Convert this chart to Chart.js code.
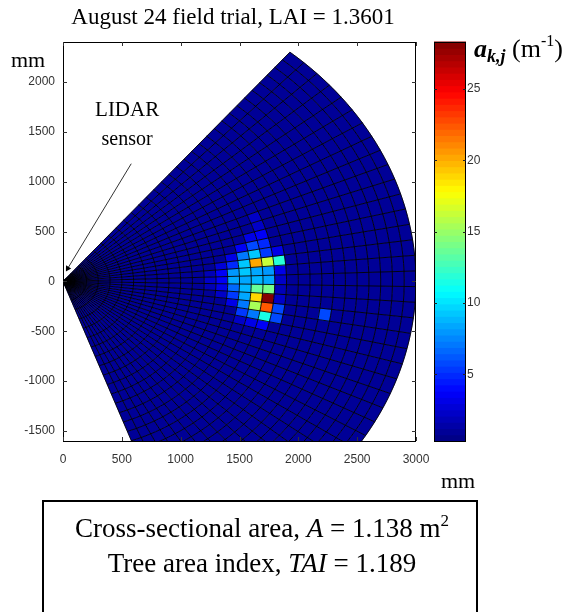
<!DOCTYPE html>
<html>
<head>
<meta charset="utf-8">
<script src="https://cdn.jsdelivr.net/npm/chart.js@4.4.1/dist/chart.umd.min.js"></script>
<style>
  html, body { margin: 0; padding: 0; background: #fff; }
  body { width: 574px; height: 612px; position: relative; overflow: hidden;
         font-family: "Liberation Serif", "Times New Roman", serif; color: #000; }
  #wrap { position: absolute; left: 0; top: 0; width: 574px; height: 612px; }
  .lbl { position: absolute; white-space: nowrap; line-height: 1; }
  #title { left: 0; width: 466px; top: 5px; text-align: center; font-size: 23px; }
  #mmY { left: 11px; top: 49px; font-size: 22px; }
  #mmX { left: 441px; top: 470px; font-size: 22px; }
  #cbLabel { left: 474px; top: 33px; font-size: 26px; }
  #cbLabel sub { font-size: 18px; vertical-align: -5px; }
  #cbLabel sup { font-size: 16px; vertical-align: 11px; }
  #box { position: absolute; left: 42px; top: 500px; width: 432px; height: 140px;
         border: 2px solid #000; }
  .boxline { left: 0; width: 436px; text-align: center; font-size: 27px; }
  .boxline sup { font-size: 17px; vertical-align: 11px; }
</style>
</head>
<body>
<div id="wrap"><canvas id="fan-chart" width="574" height="612"></canvas></div>
<div class="lbl" id="title">August 24 field trial, LAI = 1.3601</div>
<div class="lbl" id="mmY">mm</div>
<div class="lbl" id="mmX">mm</div>
<div class="lbl" id="cbLabel"><b><i>a</i></b><sub><b><i>k,j</i></b></sub> (m<sup>-1</sup>)</div>
<div id="box">
  <div class="lbl boxline" style="top:10px">Cross-sectional area, <i>A</i> = 1.138 m<sup>2</sup></div>
  <div class="lbl boxline" style="top:48px">Tree area index, <i>TAI</i> = 1.189</div>
</div>
<script>
(function () {
  'use strict';

  // Polar grid of the scan (mm / degrees from the sensor)
  const RING_EDGES = [0, 100, 200, 300, 400, 500, 600, 700, 800, 900, 1000,
    1100, 1200, 1300, 1400, 1500, 1600, 1700, 1800, 1900, 2000,
    2100, 2200, 2300, 2400, 2500, 2600, 2700, 2800, 2900, 3000];
  const SECTOR_EDGES = [-70, -67, -64, -61, -58, -55, -52, -49, -46, -43, -40,
    -37, -34, -31, -28, -25, -22, -19, -16, -13, -10, -7, -4, -1,
    2, 5, 8, 11, 14, 17, 20, 23, 26, 29, 32, 35, 38, 41, 44, 47, 50];

  // a_kj values (m^-1): background level plus the non-empty cells
  const BASE_VALUE = 0.9;
  const HOT_RING = [
    12, 12, 12,
    13, 13, 13, 13, 13,
    14, 14, 14, 14, 14, 14, 14,
    15, 15, 15, 15, 15, 15, 15, 15, 15, 15,
    16, 16, 16, 16, 16, 16, 16, 16, 16, 16, 16,
    17, 17, 17, 17, 17, 17, 17, 17, 17, 17, 17, 17, 17,
    18, 18, 18, 18, 18, 18, 18, 18,
    22];
  const HOT_SECTOR = [
    22, 23, 24,
    21, 22, 23, 24, 25,
    20, 21, 22, 23, 24, 25, 26,
    18, 19, 20, 21, 22, 23, 24, 25, 26, 27,
    18, 19, 20, 21, 22, 23, 24, 25, 26, 27, 28,
    18, 19, 20, 21, 22, 23, 24, 25, 26, 27, 28, 29, 30,
    19, 20, 21, 22, 23, 24, 25, 26,
    20];
  const HOT_VALUE = [
    2.0, 2.2, 2.0,
    2.4, 3.0, 3.6, 3.6, 2.6,
    3.0, 5.4, 6.5, 8.2, 7.8, 5.0, 3.0,
    2.5, 5.5, 6.9, 8.2, 9.0, 8.6, 9.1, 9.5, 6.9, 3.5,
    3.0, 7.3, 15.6, 19.1, 13.5, 8.8, 8.2, 20.3, 9.3, 6.0, 3.0,
    3.5, 11.5, 22.6, 28.0, 14.3, 8.6, 7.8, 16.1, 5.5, 5.0, 3.5, 2.2, 2.4,
    5.9, 5.6, 2.5, 2.0, 2.2, 3.0, 11.7, 3.0,
    5.8];

  const X_TICKS = [0, 500, 1000, 1500, 2000, 2500, 3000];
  const Y_TICKS = [-1500, -1000, -500, 0, 500, 1000, 1500, 2000];
  const CB_TICKS = [5, 10, 15, 20, 25];
  const CB_MIN = 0.33;
  const CB_MAX = 28.3;

  // annotation: pointer from the label to the sensor (mm)
  const LIDAR_LINE = [{ x: 580, y: 1180 }, { x: 40, y: 130 }];
  const LIDAR_TEXT = [{ text: 'LIDAR', x: 545, y: 1660, size: 21 },
                      { text: 'sensor', x: 545, y: 1370, size: 20 }];

  const N_COLORS = 64;
  const TICK_FONT = '"Liberation Sans", Arial, sans-serif';

  function jet(t) {
    const c = v => Math.round(255 * Math.max(0, Math.min(1, v)));
    return 'rgb(' + c(1.5 - Math.abs(4 * t - 3)) + ',' + c(1.5 - Math.abs(4 * t - 2)) + ',' +
      c(1.5 - Math.abs(4 * t - 1)) + ')';
  }

  function colorFor(v) {
    let i = Math.floor((v - CB_MIN) / (CB_MAX - CB_MIN) * N_COLORS);
    i = Math.max(0, Math.min(N_COLORS - 1, i));
    return jet((i + 0.5) / N_COLORS);
  }

  // value grid [ring][sector]
  const grid = RING_EDGES.slice(1).map(() => SECTOR_EDGES.slice(1).map(() => BASE_VALUE));
  HOT_RING.forEach((k, n) => { grid[k][HOT_SECTOR[n]] = HOT_VALUE[n]; });

  const fanPlugin = {
    id: 'fan',
    beforeDatasetsDraw(chart) {
      const { ctx, chartArea, scales } = chart;
      const xs = scales.x, ys = scales.y, cb = scales.cb;
      const rad = d => d * Math.PI / 180;
      const pt = (r, a) => [xs.getPixelForValue(r * Math.cos(rad(a))),
                            ys.getPixelForValue(r * Math.sin(rad(a)))];
      const SUB = 4;

      ctx.save();
      ctx.beginPath();
      ctx.rect(chartArea.left, chartArea.top, chartArea.width, chartArea.height);
      ctx.clip();

      // cells
      for (let k = 0; k < grid.length; k++) {
        const r0 = RING_EDGES[k], r1 = RING_EDGES[k + 1];
        for (let j = 0; j < grid[k].length; j++) {
          const a0 = SECTOR_EDGES[j], a1 = SECTOR_EDGES[j + 1];
          ctx.beginPath();
          for (let s = 0; s <= SUB; s++) {
            const p = pt(r1, a0 + (a1 - a0) * s / SUB);
            s === 0 ? ctx.moveTo(p[0], p[1]) : ctx.lineTo(p[0], p[1]);
          }
          for (let s = SUB; s >= 0; s--) {
            const p = pt(r0, a0 + (a1 - a0) * s / SUB);
            ctx.lineTo(p[0], p[1]);
          }
          ctx.closePath();
          ctx.fillStyle = colorFor(grid[k][j]);
          ctx.fill();
          ctx.strokeStyle = ctx.fillStyle;
          ctx.lineWidth = 0.5;
          ctx.stroke();
        }
      }

      // cell edges
      ctx.beginPath();
      const aMin = SECTOR_EDGES[0], aMax = SECTOR_EDGES[SECTOR_EDGES.length - 1];
      RING_EDGES.slice(1).forEach(r => {
        const n = 80;
        for (let s = 0; s <= n; s++) {
          const p = pt(r, aMin + (aMax - aMin) * s / n);
          s === 0 ? ctx.moveTo(p[0], p[1]) : ctx.lineTo(p[0], p[1]);
        }
      });
      const rMax = RING_EDGES[RING_EDGES.length - 1];
      SECTOR_EDGES.forEach(a => {
        const p0 = pt(0, a), p1 = pt(rMax, a);
        ctx.moveTo(p0[0], p0[1]);
        ctx.lineTo(p1[0], p1[1]);
      });
      ctx.strokeStyle = 'rgba(0,0,0,0.88)';
      ctx.lineWidth = 1;
      ctx.stroke();
      ctx.restore();

      // colour bar
      const cbLeft = 434, cbRight = 466;
      ctx.save();
      for (let i = 0; i < N_COLORS; i++) {
        const v0 = CB_MIN + (CB_MAX - CB_MIN) * i / N_COLORS;
        const v1 = CB_MIN + (CB_MAX - CB_MIN) * (i + 1) / N_COLORS;
        const yTop = cb.getPixelForValue(v1), yBot = cb.getPixelForValue(v0);
        ctx.fillStyle = jet((i + 0.5) / N_COLORS);
        ctx.fillRect(cbLeft, yTop - 0.5, cbRight - cbLeft, yBot - yTop + 1);
      }
      ctx.strokeStyle = '#000';
      ctx.lineWidth = 1;
      ctx.strokeRect(cbLeft + 0.5, chartArea.top + 0.5, cbRight - cbLeft - 1, chartArea.height);
      ctx.beginPath();
      CB_TICKS.forEach(v => {
        const y = Math.round(cb.getPixelForValue(v)) + 0.5;
        ctx.moveTo(cbLeft, y); ctx.lineTo(cbLeft + 3, y);
        ctx.moveTo(cbRight, y); ctx.lineTo(cbRight - 3, y);
      });
      ctx.strokeStyle = '#222';
      ctx.stroke();
      ctx.restore();
    },
    afterDatasetsDraw(chart) {
      const { ctx, chartArea, scales } = chart;
      const xs = scales.x, ys = scales.y;
      ctx.save();
      // axes box with inward ticks
      ctx.strokeStyle = '#000';
      ctx.lineWidth = 1;
      ctx.strokeRect(Math.round(chartArea.left) + 0.5, Math.round(chartArea.top) + 0.5,
        Math.round(chartArea.width) - 1, Math.round(chartArea.height));
      ctx.beginPath();
      const TL = 4;
      X_TICKS.forEach(v => {
        const x = Math.round(xs.getPixelForValue(v)) + 0.5;
        ctx.moveTo(x, chartArea.top); ctx.lineTo(x, chartArea.top + TL);
        ctx.moveTo(x, chartArea.bottom); ctx.lineTo(x, chartArea.bottom - TL);
      });
      Y_TICKS.forEach(v => {
        const y = Math.round(ys.getPixelForValue(v)) + 0.5;
        ctx.moveTo(chartArea.left, y); ctx.lineTo(chartArea.left + TL, y);
        ctx.moveTo(chartArea.right, y); ctx.lineTo(chartArea.right - TL, y);
      });
      ctx.strokeStyle = '#333';
      ctx.stroke();

      // annotation text
      ctx.fillStyle = '#000';
      ctx.textAlign = 'center';
      ctx.textBaseline = 'alphabetic';
      LIDAR_TEXT.forEach(t => {
        ctx.font = t.size + 'px "Liberation Serif", "Times New Roman", serif';
        ctx.fillText(t.text, xs.getPixelForValue(t.x), ys.getPixelForValue(t.y));
      });
      ctx.restore();
    }
  };

  function noPad(s) {
    s.paddingTop = 0; s.paddingBottom = 0; s.paddingLeft = 0; s.paddingRight = 0;
  }

  const ctx = document.getElementById('fan-chart');
  new Chart(ctx, {
    type: 'scatter',
    data: {
      datasets: [{
        type: 'line',
        data: LIDAR_LINE,
        borderColor: '#333',
        borderWidth: 1,
        // small arrow head at the sensor end
        pointRadius: [0, 3.5],
        pointStyle: 'triangle',
        rotation: -149,
        pointBackgroundColor: '#000',
        pointBorderColor: '#000',
        pointBorderWidth: 0,
        fill: false
      }]
    },
    options: {
      responsive: false,
      animation: false,
      devicePixelRatio: 1,
      layout: { padding: { top: 42, right: 0, bottom: 0, left: 0 } },
      plugins: { legend: { display: false }, tooltip: { enabled: false } },
      scales: {
        x: {
          type: 'linear', min: 0, max: 3000,
          afterBuildTicks: s => { s.ticks = X_TICKS.map(v => ({ value: v })); },
          afterFit: s => { s.height = 171; noPad(s); },
          grid: { display: false, drawTicks: false },
          border: { display: false },
          ticks: { color: '#333', padding: 11, maxRotation: 0,
                   font: { family: TICK_FONT, size: 12 }, callback: v => String(v) }
        },
        y: {
          type: 'linear', min: -1600, max: 2400,
          afterBuildTicks: s => { s.ticks = Y_TICKS.map(v => ({ value: v })); },
          afterFit: s => { s.width = 63; noPad(s); },
          grid: { display: false, drawTicks: false },
          border: { display: false },
          ticks: { color: '#333', padding: 8,
                   font: { family: TICK_FONT, size: 12 }, callback: v => String(v) }
        },
        cb: {
          type: 'linear', position: 'right', min: CB_MIN, max: CB_MAX,
          afterBuildTicks: s => { s.ticks = CB_TICKS.map(v => ({ value: v })); },
          afterFit: s => { s.width = 158; noPad(s); },
          grid: { display: false, drawTicks: false },
          border: { display: false },
          ticks: { color: '#333', padding: 51,
                   font: { family: TICK_FONT, size: 12 }, callback: v => String(v) }
        }
      }
    },
    plugins: [fanPlugin]
  });
})();
</script>
</body>
</html>
